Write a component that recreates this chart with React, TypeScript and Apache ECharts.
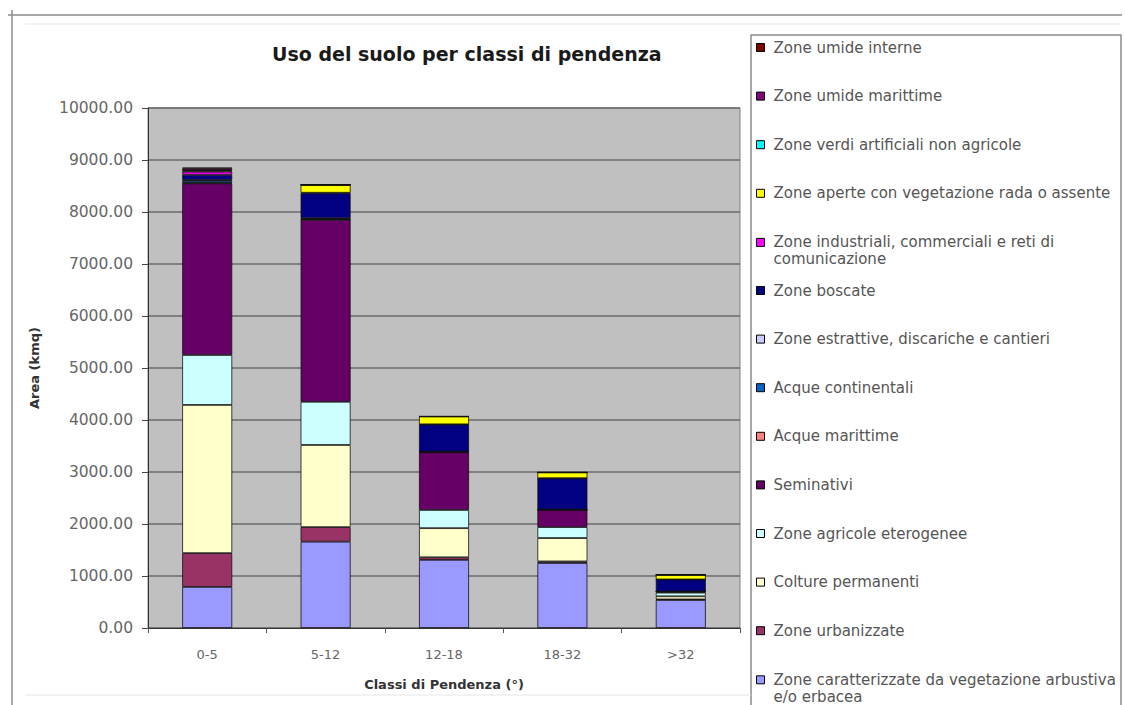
import React, { useEffect, useRef } from 'react';
import * as echarts from 'echarts';

const categories = ['0-5', '5-12', '12-18', '18-32', '>32'];

const seriesNames = [
  'Zone caratterizzate da vegetazione arbustiva e/o erbacea',
  'Zone urbanizzate',
  'Colture permanenti',
  'Zone agricole eterogenee',
  'Seminativi',
  'Acque marittime',
  'Acque continentali',
  'Zone estrattive, discariche e cantieri',
  'Zone boscate',
  'Zone industriali, commerciali e reti di comunicazione',
  'Zone aperte con vegetazione rada o assente',
  'Zone verdi artificiali non agricole',
  'Zone umide marittime',
  'Zone umide interne',
];

const seriesColors = [
  '#9999FF', '#993366', '#FFFFCC', '#CCFFFF', '#660066', '#FF8080', '#0066CC',
  '#CCCCFF', '#000080', '#FF00FF', '#FFFF00', '#00FFFF', '#800080', '#800000',
];

const vegetazioneArbustiva = [790, 1660, 1310, 1250, 540];
const zoneUrbanizzate = [650, 280, 50, 30, 10];
const colturePermanenti = [2850, 1580, 560, 450, 60];
const agricoleEterogenee = [960, 830, 350, 210, 70];
const seminativi = [3300, 3500, 1110, 330, 20];
const acqueMarittime = [10, 5, 2, 2, 1];
const acqueContinentali = [40, 15, 5, 3, 1];
const zoneEstrattive = [15, 10, 5, 3, 1];
const zoneBoscate = [100, 480, 520, 600, 230];
const zoneIndustriali = [60, 10, 5, 3, 1];
const zoneAperte = [20, 150, 150, 110, 90];
const zoneVerdi = [10, 3, 1, 1, 0];
const umideMarittime = [30, 0, 0, 0, 0];
const umideInterne = [20, 0, 0, 0, 0];

const seriesValues = [
  vegetazioneArbustiva, zoneUrbanizzate, colturePermanenti, agricoleEterogenee,
  seminativi, acqueMarittime, acqueContinentali, zoneEstrattive, zoneBoscate,
  zoneIndustriali, zoneAperte, zoneVerdi, umideMarittime, umideInterne,
];

const legendLabels: Record<string, string> = {
  'Zone caratterizzate da vegetazione arbustiva e/o erbacea':
    'Zone caratterizzate da vegetazione arbustiva\ne/o erbacea',
  'Zone industriali, commerciali e reti di comunicazione':
    'Zone industriali, commerciali e reti di\ncomunicazione',
};

const yTicks = { min: 0, max: 10000, interval: 1000 };

const FONT = 'DejaVu Sans';

export default function App() {
  const ref = useRef<HTMLDivElement>(null);

  useEffect(() => {
    if (!ref.current) return;
    const chart = echarts.init(ref.current, undefined, { renderer: 'svg' });

    const lineH = 17;
    const legendY0 = 47.5;
    const legendStep = 48.6;
    const n = seriesNames.length;

    const legends = seriesNames.map((name, i) => {
      const rank = n - 1 - i;
      const y = legendY0 + rank * legendStep;
      const twoLine = !!legendLabels[name];
      return {
        show: true,
        orient: 'vertical',
        left: 756,
        top: y - lineH / 2,
        padding: 0,
        data: [name],
        selectedMode: false,
        icon: twoLine ? 'path://M0,0M0,4.5h8v8h-8zM0,34' : 'rect',
        itemWidth: 8,
        itemHeight: twoLine ? 34 : 8,
        itemStyle: { borderColor: '#000', borderWidth: 1 },
        formatter: (nm: string) => legendLabels[nm] || nm,
        textStyle: {
          fontFamily: FONT,
          fontSize: 15,
          color: '#555',
          lineHeight: lineH,
          padding: [0, 0, 0, 4],
        },
      };
    });

    chart.setOption({
      animation: false,
      backgroundColor: '#ffffff',
      title: {
        text: 'Uso del suolo per classi di pendenza',
        left: 272,
        top: 44,
        padding: 0,
        textStyle: { fontFamily: FONT, fontSize: 19, fontWeight: 'bold', color: '#1a1a1a' },
      },
      legend: legends,
      grid: {
        left: 148,
        right: 385,
        top: 108,
        bottom: 77,
        show: true,
        backgroundColor: '#C0C0C0',
        borderColor: '#808080',
        borderWidth: 1,
      },
      xAxis: {
        type: 'category',
        data: categories,
        name: 'Classi di Pendenza (°)',
        nameLocation: 'middle',
        nameGap: 50,
        nameTextStyle: { fontFamily: FONT, fontSize: 13, fontWeight: 'bold', color: '#333' },
        axisLine: { lineStyle: { color: '#333', width: 1 } },
        axisTick: { show: true, length: 5, lineStyle: { color: '#555' } },
        axisLabel: { fontFamily: FONT, fontSize: 13, color: '#666', margin: 20 },
      },
      yAxis: {
        type: 'value',
        min: yTicks.min,
        max: yTicks.max,
        interval: yTicks.interval,
        name: 'Area (kmq)',
        nameLocation: 'middle',
        nameRotate: 90,
        nameGap: 107,
        nameTextStyle: { fontFamily: FONT, fontSize: 13, fontWeight: 'bold', color: '#333' },
        axisLine: { show: true, lineStyle: { color: '#333', width: 1 } },
        axisTick: { show: true, length: 6, lineStyle: { color: '#444' } },
        axisLabel: {
          fontFamily: FONT,
          fontSize: 15.5,
          color: '#666',
          margin: 15,
          formatter: (v: number) => v.toFixed(2),
        },
        splitLine: { show: true, lineStyle: { color: '#6a6a6a', width: 1.5 } },
      },
      series: seriesNames.map((name, i) => ({
        type: 'bar',
        name,
        stack: 'total',
        barWidth: 50,
        data: seriesValues[i],
        itemStyle: { color: seriesColors[i], borderColor: '#111', borderWidth: 0.8 },
        emphasis: { disabled: true },
      })),
      graphic: [
        { type: 'line', shape: { x1: 8, y1: 15, x2: 1122, y2: 15 }, style: { stroke: '#8c8c8c', lineWidth: 1.5 } },
        { type: 'line', shape: { x1: 12, y1: 10, x2: 12, y2: 705 }, style: { stroke: '#8c8c8c', lineWidth: 1.5 } },
        { type: 'line', shape: { x1: 25, y1: 24, x2: 1120, y2: 24 }, style: { stroke: '#e6e6e6', lineWidth: 1 } },
        { type: 'line', shape: { x1: 25, y1: 695, x2: 751, y2: 695 }, style: { stroke: '#e6e6e6', lineWidth: 1 } },
        {
          type: 'rect',
          shape: { x: 751, y: 35, width: 370, height: 690 },
          style: { fill: 'none', stroke: '#8c8c8c', lineWidth: 1.5 },
          z: -1,
        },
      ],
    });

    return () => chart.dispose();
  }, []);

  return (
    <div
      ref={ref}
      style={{ position: 'fixed', left: 0, top: 0, width: 1125, height: 705, background: '#fff' }}
    />
  );
}
